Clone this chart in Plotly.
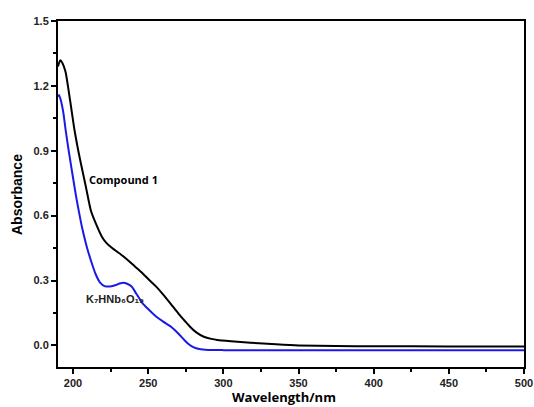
import plotly.graph_objects as go

# Compound 1 (black)
wl_c1 = [190, 191.5, 193, 195, 198, 201, 204.5, 208.5, 212, 216, 219, 222, 226, 231, 236, 241,
         246, 251, 255, 260, 265, 270, 275, 278, 282, 287, 292, 296, 305, 318, 335, 350, 375,
         400, 450, 500]
abs_c1 = [1.29, 1.318, 1.305, 1.265, 1.135, 0.995, 0.865, 0.735, 0.62, 0.55, 0.505, 0.475, 0.45,
          0.425, 0.397, 0.366, 0.335, 0.300, 0.274, 0.235, 0.192, 0.148, 0.108, 0.085, 0.06,
          0.04, 0.03, 0.025, 0.019, 0.012, 0.005, 0.0, -0.003, -0.004, -0.005, -0.005]

# K7HNb6O19 (blue)
wl_k = [190, 190.7, 192, 193.6, 195, 197, 200, 202, 204, 206, 209, 212, 215, 218, 221, 224, 228,
        231, 233.5, 236, 239, 242, 246, 250, 255, 260, 265, 270, 274, 277, 280, 284, 290, 300,
        400, 500]
abs_k = [1.15, 1.158, 1.13, 1.074, 1.0, 0.905, 0.775, 0.69, 0.615, 0.545, 0.46, 0.39, 0.33, 0.29,
         0.274, 0.272, 0.278, 0.286, 0.29, 0.285, 0.272, 0.24, 0.197, 0.168, 0.135, 0.11, 0.087,
         0.055, 0.025, 0.005, -0.008, -0.017, -0.021, -0.022, -0.022, -0.022]

x_ticks = [200, 250, 300, 350, 400, 450, 500]
y_ticks = [0.0, 0.3, 0.6, 0.9, 1.2, 1.5]

fig = go.Figure()
fig.add_trace(go.Scatter(x=wl_c1, y=abs_c1, mode="lines", line=dict(color="black", width=2, shape="spline", smoothing=0.6),
                         name="Compound 1", showlegend=False))
fig.add_trace(go.Scatter(x=wl_k, y=abs_k, mode="lines", line=dict(color="#1a1ae6", width=2, shape="spline", smoothing=0.6),
                         name="K7HNb6O19", showlegend=False))

fig.add_annotation(x=209.3, y=0.766, text="<b>Compound 1</b>", showarrow=False, xanchor="left", yanchor="middle",
                   font=dict(family="Open Sans", size=11, color="black"))
fig.add_annotation(x=207.3, y=0.213, text="<b>K\u2087HNb\u2086O\u2081\u2089</b>", showarrow=False,
                   xanchor="left", yanchor="middle",
                   font=dict(family="Liberation Sans", size=11, color="#222"))

# axis titles
fig.add_annotation(xref="paper", yref="paper", x=0.5 - 0.015, y=-0.088, text="<b>Wavelength/nm</b>",
                   showarrow=False, xanchor="center", yanchor="middle",
                   font=dict(family="Open Sans", size=13, color="black"))
fig.add_annotation(xref="paper", yref="paper", x=-0.088, y=0.5, text="<b>Absorbance</b>", textangle=-90,
                   showarrow=False, xanchor="center", yanchor="middle",
                   font=dict(family="Liberation Sans", size=14, color="black"))

axis_common = dict(showline=True, linecolor="black", linewidth=2, mirror=True, ticks="outside",
                   ticklen=5, tickwidth=1.5, tickcolor="black", showgrid=False, zeroline=False,
                   automargin=False, ticklabeloverflow="allow",
                   tickfont=dict(family="Liberation Sans", size=11, color="#222"))

fig.update_xaxes(range=[190, 500], tickvals=x_ticks, ticktext=["<b>%d</b>" % v for v in x_ticks],
                 minor=dict(ticks="outside", ticklen=3, tickwidth=1.5, tickcolor="black", dtick=25, tick0=200),
                 **axis_common)
fig.update_yaxes(range=[-0.1, 1.5], tickvals=y_ticks, ticktext=["<b>%.1f</b>" % v for v in y_ticks],
                 minor=dict(ticks="outside", ticklen=3, tickwidth=1.5, tickcolor="black", dtick=0.15, tick0=0),
                 **axis_common)

fig.update_layout(width=534, height=407, margin=dict(l=58, r=10, t=21, b=40),
                  plot_bgcolor="white", paper_bgcolor="white")

fig.write_html("out.html")
